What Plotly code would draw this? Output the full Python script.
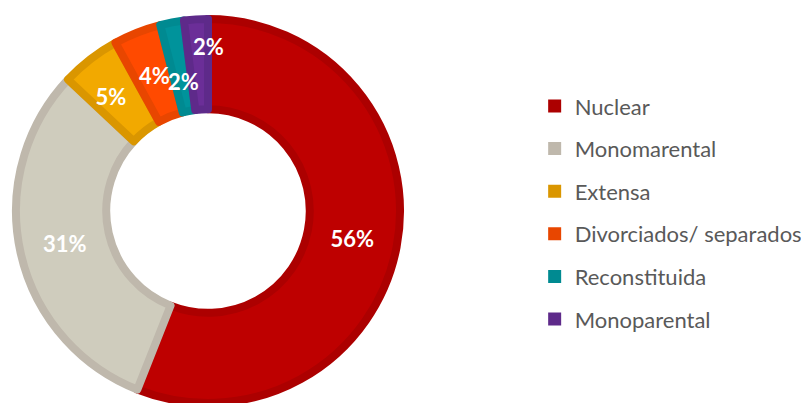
import plotly.graph_objects as go

categories = ["Nuclear", "Monomarental", "Extensa", "Divorciados/ separados", "Reconstituida", "Monoparental"]
values = [56, 31, 5, 4, 2, 2]
fill_colors = ["#BE0000", "#CFCCBD", "#F2A900", "#FF4A00", "#00939B", "#6B2E98"]
edge_colors = ["#AC0000", "#BFB8AC", "#DA9600", "#E84600", "#008A91", "#5E2A8A"]

W, H = 809, 403
cx, cy, R = 200, 203, 192
HOLE = 0.53

# each label is drawn by its own transparent copy of the pie, scaled so the
# text lands where the original had it (small slices were nudged by hand)
sp = "&nbsp;"
label_scale = [1.0, 1.0, 0.875, 0.855, 0.73, 0.91]
label_pre = ["", "", "", "", "", sp * 4]
label_post = ["", "", sp * 3, "", "", ""]


def domain_for(r):
    return dict(x=[(cx - r) / W, (cx + r) / W], y=[(H - cy - r) / H, (H - cy + r) / H])


fig = go.Figure()

fig.add_trace(go.Pie(
    labels=categories,
    values=values,
    sort=False,
    direction="clockwise",
    rotation=0,
    hole=HOLE,
    marker=dict(colors=fill_colors, line=dict(color=edge_colors, width=8)),
    textinfo="none",
    showlegend=False,
    hoverinfo="label+value",
    domain=domain_for(R),
))

for i, s in enumerate(label_scale):
    fig.add_trace(go.Pie(
        labels=categories,
        values=values,
        sort=False,
        direction="clockwise",
        rotation=0,
        hole=HOLE,
        marker=dict(colors=["rgba(0,0,0,0)"] * len(values), line=dict(width=0)),
        texttemplate=label_pre[i] + "%{value}%" + label_post[i],
        textposition=["inside" if j == i else "none" for j in range(len(values))],
        insidetextorientation="horizontal",
        textfont=dict(family="Lato", size=22, color="white", weight="bold"),
        showlegend=False,
        hoverinfo="skip",
        domain=domain_for(R * s),
    ))

# legend entries
for name, col in zip(categories, edge_colors):
    fig.add_trace(go.Scatter(
        x=[None], y=[None], mode="markers", name=name, legendgroup=name,
        marker=dict(symbol="square", size=13, color=col),
    ))

fig.update_layout(
    width=W, height=H,
    margin=dict(l=0, r=0, t=0, b=0),
    paper_bgcolor="white", plot_bgcolor="white",
    xaxis=dict(visible=False), yaxis=dict(visible=False),
    uniformtext=dict(minsize=22, mode="show"),
    legend=dict(
        x=0.651, y=0.492, xanchor="left", yanchor="middle",
        font=dict(family="Lato", size=22, color="#595959"),
        tracegroupgap=11, itemclick=False,
    ),
)

fig.write_html("out.html")
